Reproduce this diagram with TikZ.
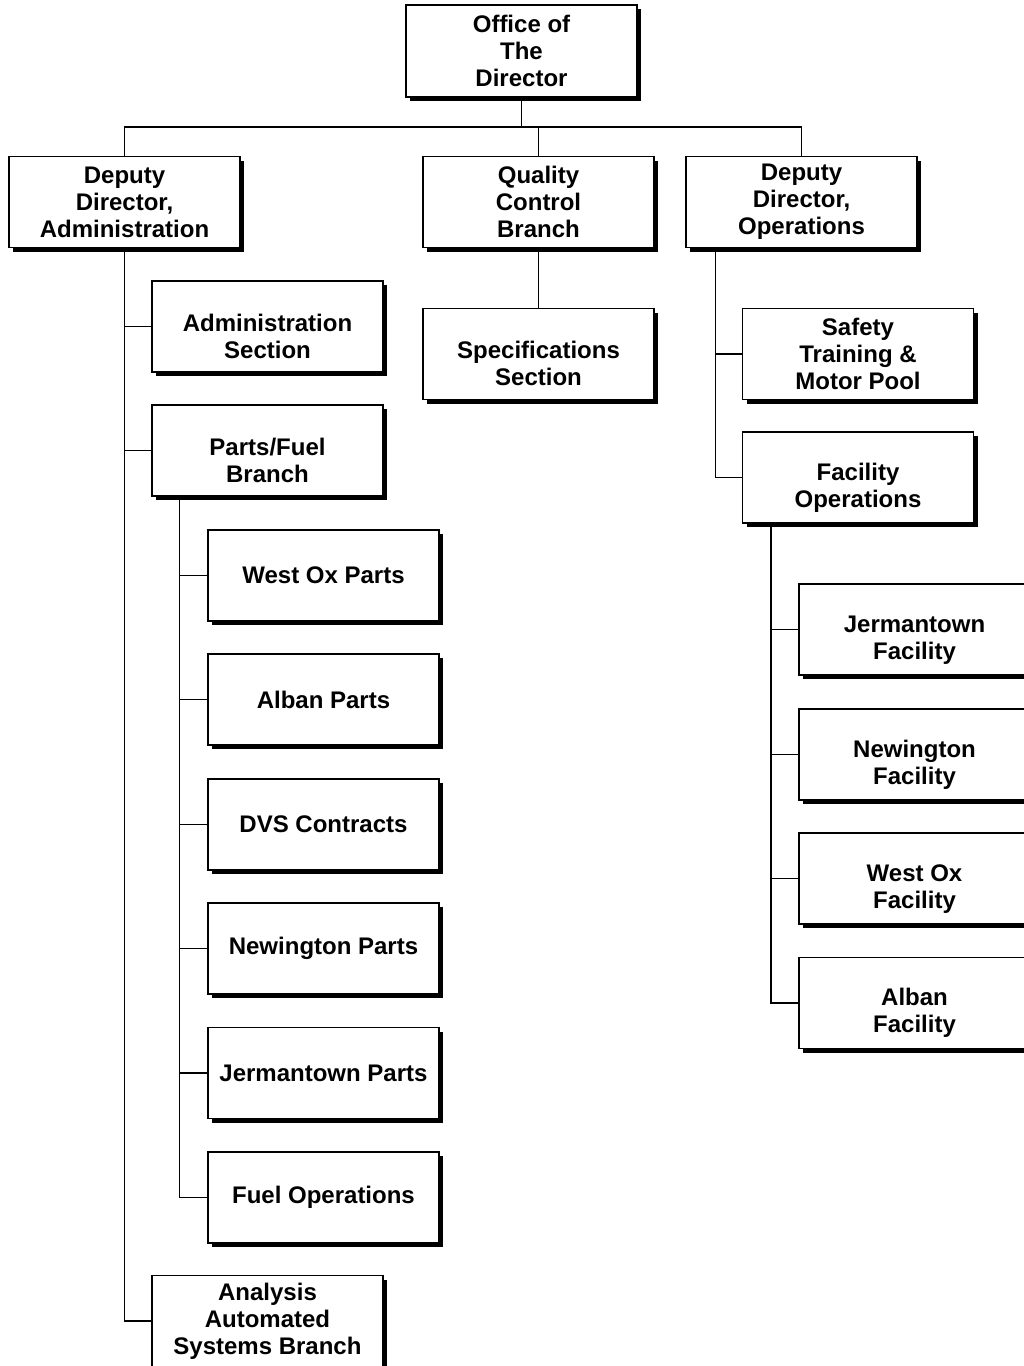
\documentclass[tikz,border=0pt]{standalone}
\usepackage{fontspec}
\setmainfont{Liberation Sans}
\usepackage{tikz}
\usetikzlibrary{shadows}

\newcommand{\orgpad}{\rule{0pt}{10pt}}

\tikzset{
  orgbox/.style={draw,line width=1.3pt,fill=white,minimum width=231pt,minimum height=91pt,
    align=center,inner sep=2pt,font=\fontsize{24}{27}\selectfont\bfseries,
    drop shadow={shadow xshift=4pt,shadow yshift=-4pt,fill=black,opacity=1}},
  orgline/.style={line width=1.3pt}
}

\begin{document}
\begin{tikzpicture}[x=1pt,y=-1pt]
\useasboundingbox (0,0) rectangle (1024,1366);
\node[orgbox,minimum height=92pt] (dir) at (521.5,51) {Office of\\The\\Director};
\node[orgbox] (adm) at (124.5,202) {Deputy\\Director,\\Administration};
\node[orgbox] (qc) at (538.5,202) {Quality\\Control\\Branch};
\node[orgbox] (ops) at (801.5,202) {Deputy\\Director,\\Operations};
\node[orgbox] (asec) at (267.5,326.5) {\orgpad\\Administration\\Section};
\node[orgbox] (spec) at (538.5,354) {\orgpad\\Specifications\\Section};
\node[orgbox] (pf) at (267.5,450.5) {\orgpad\\Parts/Fuel\\Branch};
\node[orgbox] (safe) at (858,354) {Safety\\Training \&\\Motor Pool};
\node[orgbox] (fops) at (858,477.5) {\orgpad\\Facility\\Operations};
\node[orgbox] (wop) at (323.5,575.5) {West Ox Parts};
\node[orgbox] (alp) at (323.5,699.5) {Alban Parts};
\node[orgbox] (dvs) at (323.5,824.5) {DVS Contracts};
\node[orgbox] (nwp) at (323.5,948.5) {Newington Parts};
\node[orgbox] (jmp) at (323.5,1073) {Jermantown Parts};
\node[orgbox] (fuel) at (323.5,1197.5) {Fuel Operations};
\node[orgbox] (ana) at (267.5,1321) {Analysis\\Automated\\Systems Branch};
\node[orgbox] (jmf) at (914.5,629.5) {\orgpad\\Jermantown\\Facility};
\node[orgbox] (nwf) at (914.5,754.5) {\orgpad\\Newington\\Facility};
\node[orgbox] (wof) at (914.5,878.5) {\orgpad\\West Ox\\Facility};
\node[orgbox] (alf) at (914.5,1003) {\orgpad\\Alban\\Facility};

\coordinate (bus) at (521.5,127);
\coordinate (pfbus) at ([xshift=28pt]pf.south west);
\coordinate (opsbus) at ([xshift=30pt]ops.south west);
\coordinate (fopsbus) at ([xshift=29pt]fops.south west);

\draw[orgline] (dir.south) -- (bus);
\draw[orgline] (adm.north) |- (bus) -| (ops.north);
\draw[orgline] (qc.north |- bus) -- (qc.north);
\draw[orgline] (qc.south) -- (spec.north);

\draw[orgline] (adm.south) |- (ana.west);
\draw[orgline] (adm.south |- asec.west) -- (asec.west);
\draw[orgline] (adm.south |- pf.west) -- (pf.west);

\draw[orgline] (pfbus) |- (fuel.west);
\foreach \n in {wop,alp,dvs,nwp,jmp}
  \draw[orgline] (pfbus |- \n.west) -- (\n.west);

\draw[orgline] (opsbus) |- (fops.west);
\draw[orgline] (opsbus |- safe.west) -- (safe.west);

\draw[orgline] (fopsbus) |- (alf.west);
\foreach \n in {jmf,nwf,wof}
  \draw[orgline] (fopsbus |- \n.west) -- (\n.west);
\end{tikzpicture}
\end{document}
